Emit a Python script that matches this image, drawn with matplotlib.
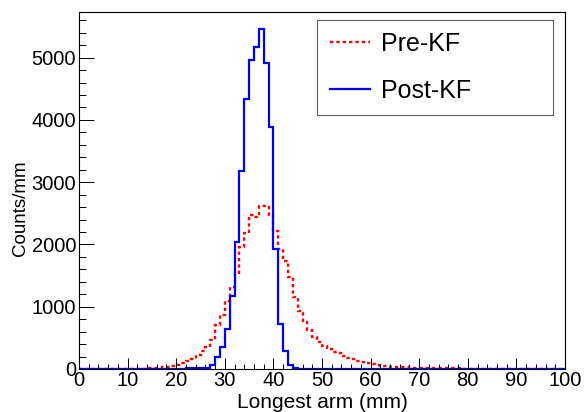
import numpy as np
import matplotlib
matplotlib.use('Agg')
import matplotlib.pyplot as plt
from matplotlib.ticker import MultipleLocator

# bin edges: 1 mm bins from 0 to 100 mm
bin_edges = np.arange(0, 101, 1)

# counts per mm (bins 0..99)
pre_kf = [5, 5, 5, 5, 5, 5, 5, 5, 5, 5,
          8, 8, 8, 8, 12, 18, 22, 30, 38, 48,
          65, 90, 125, 165, 225, 290, 350, 460, 700, 860,
          1090, 1310, 1530, 1960, 2180, 2470, 2440, 2620, 2610, 2470,
          2210, 1930, 1730, 1480, 1160, 930, 760, 630, 520, 440,
          370, 320, 280, 250, 210, 175, 155, 135, 110, 90,
          75, 62, 52, 45, 40, 35, 30, 27, 24, 21,
          19, 17, 15, 14, 12, 11, 10, 9, 9, 8,
          8, 7, 7, 7, 6, 6, 6, 6, 5, 5,
          5, 5, 5, 5, 4, 4, 4, 4, 4, 4]

post_kf = [4, 4, 4, 4, 4, 4, 4, 4, 4, 4,
           5, 5, 5, 5, 5, 5, 5, 5, 5, 6,
           7, 8, 9, 10, 11, 12, 14, 60, 195, 350,
           650, 1180, 2040, 3180, 4330, 4970, 5170, 5460, 4920, 3880,
           1930, 720, 290, 70, 20, 6, 4, 3, 3, 3,
           3, 3, 3, 3, 3, 3, 3, 3, 3, 3,
           3, 3, 3, 3, 3, 3, 3, 3, 3, 3,
           3, 3, 3, 3, 3, 3, 3, 3, 3, 3,
           3, 3, 3, 3, 3, 3, 3, 3, 3, 3,
           3, 3, 3, 3, 3, 3, 3, 3, 3, 3]

labels = ['Pre-KF', 'Post-KF']
x_title = 'Longest arm (mm)'
y_title = 'Counts/mm'

plt.rcParams['font.family'] = ['Liberation Sans', 'DejaVu Sans']

fig = plt.figure(figsize=(5.84, 4.12), dpi=100)
ax = fig.add_axes([79 / 584, 1 - 369 / 412, 486 / 584, 357 / 412])

ax.stairs(pre_kf, bin_edges, color='#ff0000', linewidth=1.7,
          linestyle=(0, (1.4, 1.3)), label=labels[0], baseline=None)
ax.stairs(post_kf, bin_edges, color='#0000ff', linewidth=1.6,
          label=labels[1], baseline=None)

ax.set_xlim(0, 100)
ax.set_ylim(0, 1.05 * max(max(pre_kf), max(post_kf)))

ax.xaxis.set_major_locator(MultipleLocator(10))
ax.xaxis.set_minor_locator(MultipleLocator(2))
ax.yaxis.set_major_locator(MultipleLocator(1000))
ax.yaxis.set_minor_locator(MultipleLocator(200))

ax.tick_params(axis='x', which='major', direction='in', length=7.7, width=0.7,
               labelsize=14.5, pad=1.5)
ax.tick_params(axis='x', which='minor', direction='in', length=3.9, width=0.7)
ax.tick_params(axis='y', which='major', direction='in', length=10.5, width=0.7,
               labelsize=14.5, pad=2)
ax.tick_params(axis='y', which='minor', direction='in', length=5.2, width=0.7)

for s in ax.spines.values():
    s.set_linewidth(0.8)
    s.set_color('black')

ax.set_xlabel(x_title, fontsize=15)
ax.set_ylabel(y_title, fontsize=13.5)
ax.xaxis.set_label_coords(0.5, -0.068)
ax.yaxis.set_label_coords(-0.103, 0.45)

leg = ax.legend(loc='lower left', bbox_to_anchor=(0.49, 0.711, 0.485, 0.264),
                mode='expand', fontsize=18, frameon=True, fancybox=False,
                handlelength=1.6, handletextpad=0.45, borderpad=0.5,
                labelspacing=0.9, borderaxespad=0)
leg.get_frame().set_edgecolor('#333333')
leg.get_frame().set_linewidth(0.8)

plt.savefig('out.png', dpi=100)
